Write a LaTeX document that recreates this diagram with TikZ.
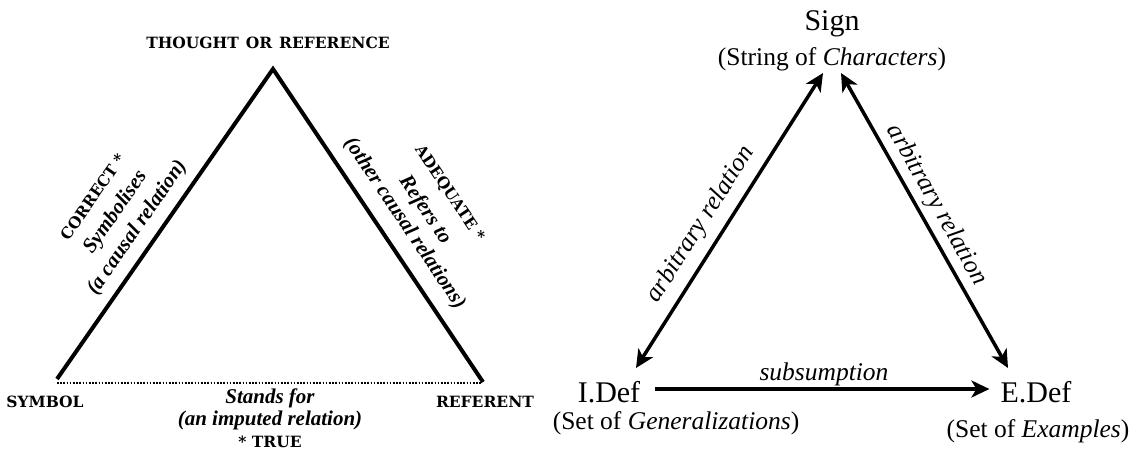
\documentclass[tikz,border=0pt]{standalone}
\usepackage{fontspec}
\setmainfont{Liberation Serif}
\newfontfamily\capsfont{DejaVu Serif}
\usetikzlibrary{arrows.meta}
\begin{document}
\begin{tikzpicture}[x=1pt,y=-1pt,
  capslbl/.style={font=\capsfont\bfseries\fontsize{15.5}{18}\selectfont, inner sep=0pt},
  itlbl/.style={font=\bfseries\itshape\fontsize{21}{25}\selectfont, inner sep=0pt},
  big/.style={font=\fontsize{30}{36}\selectfont, inner sep=0pt},
  sub/.style={font=\fontsize{25.5}{30}\selectfont, inner sep=0pt},
  edgelbl/.style={font=\itshape\fontsize{25.5}{30}\selectfont, inner sep=0pt},
  tri/.style={line width=4pt, line join=miter},
  dots/.style={line width=1.6pt, dash pattern=on 1.5pt off 1.7pt},
  arr/.style={line width=3.5pt, -{Stealth[length=18pt,width=17pt,inset=5pt]}},
  darr/.style={line width=3.5pt, {Stealth[length=18pt,width=17pt,inset=5pt]}-{Stealth[length=18pt,width=17pt,inset=5pt]}},
]
\useasboundingbox (0,0) rectangle (1137,455);
\fill[white] (0,0) rectangle (1137,455);

% ---- left triangle ----
\node[capslbl, anchor=base] (thought) at (268,48) {THOUGHT\hspace{0.45em}OR\hspace{0.45em}REFERENCE};
\coordinate (apex) at (273,69);
\coordinate (bl) at (57,379);
\coordinate (br) at (483,382);
\coordinate (dl) at (57,383);
\coordinate (dr) at (482,383);
\draw[tri] (bl) -- (apex) -- (br);
\draw[dots] (dl) -- (dr);
\path (bl) -- (apex)
  node[pos=.45, sloped, itlbl, yshift=20.5pt] (causal) {(a causal relation)}
  node[pos=.45, sloped, itlbl, yshift=47pt] (symbolises) {Symbolises}
  node[pos=.45, sloped, capslbl, yshift=75pt] (correct) {CORRECT *};
\path (apex) -- (br)
  node[pos=.535, sloped, itlbl, yshift=23pt] (other) {(other causal relations)}
  node[pos=.535, sloped, itlbl, yshift=47.5pt] (refers) {Refers to}
  node[pos=.535, sloped, capslbl, yshift=77pt] (adequate) {ADEQUATE *};
\node[capslbl, anchor=base] (symbol) at (45,407) {SYMBOL};
\node[capslbl, anchor=base] (referent) at (485,407) {REFERENT};
\node[itlbl, anchor=base] (stands) at (270,403) {Stands for};
\node[itlbl, anchor=base] (imputed) at (270,425) {(an imputed relation)};
\node[capslbl, anchor=base] (true) at (270,447) {* TRUE};

% ---- right triangle ----
\node[big, anchor=base] (sign) at (832,30) {Sign};
\node[sub, anchor=base] (signsub) at (832,65) {(String of \textit{Characters})};
\node[big, anchor=base] (idef) at (609,402) {I.Def};
\node[sub, anchor=base] (idefsub) at (676,429) {(Set of \textit{Generalizations})};
\node[big, anchor=base] (edef) at (1036,402) {E.Def};
\node[sub, anchor=base] (edefsub) at (1038,437) {(Set of \textit{Examples})};
\coordinate (sl) at (823,73);
\coordinate (sr) at (841,73);
\coordinate (il) at (636,368);
\coordinate (er) at (1008,368);
\draw[darr] (il) -- node[pos=.446, sloped, edgelbl, yshift=22pt] (arbl) {arbitrary relation} (sl);
\draw[darr] (sr) -- node[pos=.478, sloped, edgelbl, yshift=18pt] (arbr) {arbitrary relation} (er);
\draw[arr] ([shift={(15pt,13pt)}]idef.base east) -- ([shift={(-11pt,13pt)}]edef.base west);
\node[edgelbl, anchor=base] (subs) at (824,380) {subsumption};
\end{tikzpicture}
\end{document}
